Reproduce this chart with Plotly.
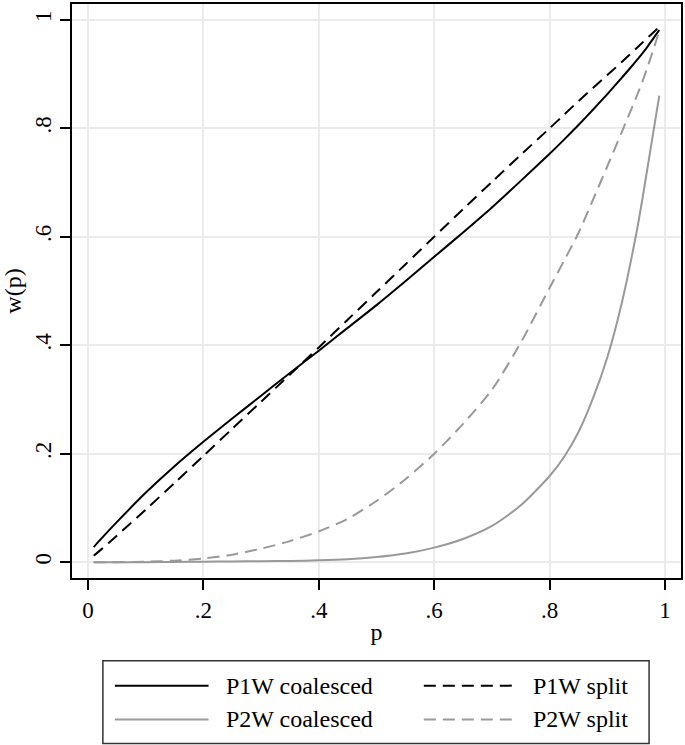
import plotly.graph_objects as go

# ---- data ----
p = [0.01, 0.02, 0.05, 0.1, 0.15, 0.2, 0.25, 0.3, 0.35, 0.4, 0.45, 0.5, 0.55, 0.6,
     0.65, 0.7, 0.75, 0.8, 0.825, 0.85, 0.875, 0.9, 0.925, 0.95, 0.96, 0.97, 0.98, 0.99]

p1w_coalesced = [0.028, 0.040, 0.074, 0.128, 0.177, 0.222, 0.265, 0.307, 0.349, 0.390,
                 0.432, 0.474, 0.518, 0.563, 0.608, 0.654, 0.703, 0.753, 0.779, 0.806,
                 0.834, 0.863, 0.893, 0.924, 0.937, 0.951, 0.966, 0.981]

p1w_split = [0.012, 0.021, 0.049, 0.097, 0.146, 0.196, 0.246, 0.296, 0.346, 0.396,
             0.447, 0.498, 0.549, 0.600, 0.651, 0.701, 0.751, 0.800, 0.825, 0.850,
             0.874, 0.898, 0.922, 0.947, 0.957, 0.967, 0.977, 0.987]

p2w_coalesced = [0.0, 0.0, 0.0, 0.0002, 0.0005, 0.001, 0.0015, 0.002, 0.0025, 0.0035,
                 0.0055, 0.0095, 0.016, 0.027, 0.043, 0.067, 0.105, 0.159, 0.194, 0.240,
                 0.302, 0.378, 0.478, 0.605, 0.665, 0.730, 0.795, 0.860]

p2w_split = [0.0, 0.0, 0.0002, 0.001, 0.003, 0.007, 0.014, 0.025, 0.039, 0.057,
             0.080, 0.113, 0.153, 0.200, 0.255, 0.318, 0.405, 0.506, 0.556, 0.607,
             0.668, 0.730, 0.793, 0.857, 0.884, 0.914, 0.946, 0.980]

tick_vals = [0, 0.2, 0.4, 0.6, 0.8, 1]
tick_text = ["0", ".2", ".4", ".6", ".8", "1"]

series_names = ["P1W coalesced", "P1W split", "P2W coalesced", "P2W split"]
series_values = [p1w_coalesced, p1w_split, p2w_coalesced, p2w_split]

# ---- styles ----
FONT = "Liberation Serif"
BLACK = "#000000"
GRAY = "#999999"
DASH = "12px,7px"
styles = [(BLACK, "solid"), (BLACK, DASH), (GRAY, "solid"), (GRAY, DASH)]

fig = go.Figure()
for name, vals, (col, dash) in zip(series_names, series_values, styles):
    fig.add_trace(go.Scatter(x=p, y=vals, mode="lines", name=name,
                             line=dict(color=col, width=2, dash=dash,
                                       shape="spline", smoothing=0.7),
                             showlegend=False))

# ---- legend drawn in paper coordinates from the series list ----
legend_box = dict(x0=0.0507, x1=0.9476, y0=-0.2882, y1=-0.1441)
fig.add_shape(type="rect", xref="paper", yref="paper", line=dict(color="#333333", width=1.5),
              fillcolor="white", **legend_box)
row_y = [-0.1875, -0.2465]
col_line = [(0.0704, 0.2242), (0.5777, 0.7332)]
col_text = [0.2504, 0.7529]
for i, (name, (col, dash)) in enumerate(zip(series_names, styles)):
    r, c = divmod(i, 2)
    fig.add_shape(type="line", xref="paper", yref="paper",
                  x0=col_line[c][0], x1=col_line[c][1], y0=row_y[r], y1=row_y[r],
                  line=dict(color=col, width=2, dash=dash))
    fig.add_annotation(xref="paper", yref="paper", x=col_text[c], y=row_y[r],
                       text=name, showarrow=False, xanchor="left", yanchor="middle",
                       font=dict(family=FONT, size=24, color="black"))

axis_common = dict(
    showgrid=True, gridcolor="#ebebeb", gridwidth=2,
    zeroline=False, showline=True, linecolor="black", linewidth=2, mirror=True,
    ticks="outside", ticklen=10, tickwidth=1.5, tickcolor="black",
    tickvals=tick_vals, ticktext=tick_text,
    tickfont=dict(family=FONT, size=23, color="black"),
)

fig.update_layout(
    width=685, height=745,
    margin=dict(l=72, r=2, t=2, b=167),
    paper_bgcolor="white", plot_bgcolor="white",
    font=dict(family=FONT, size=24, color="black"),
    xaxis=dict(range=[-0.0276, 1.0276],
               title=dict(text="p", font=dict(family=FONT, size=24), standoff=2),
               **axis_common),
    yaxis=dict(range=[-0.029, 1.029], tickangle=-90,
               title=dict(text="w(p)", font=dict(family=FONT, size=24), standoff=10),
               **axis_common),
    showlegend=False,
)

fig.write_html("out.html", config={"displayModeBar": False},
               post_script="document.body.style.margin='0';document.body.style.padding='0';")
